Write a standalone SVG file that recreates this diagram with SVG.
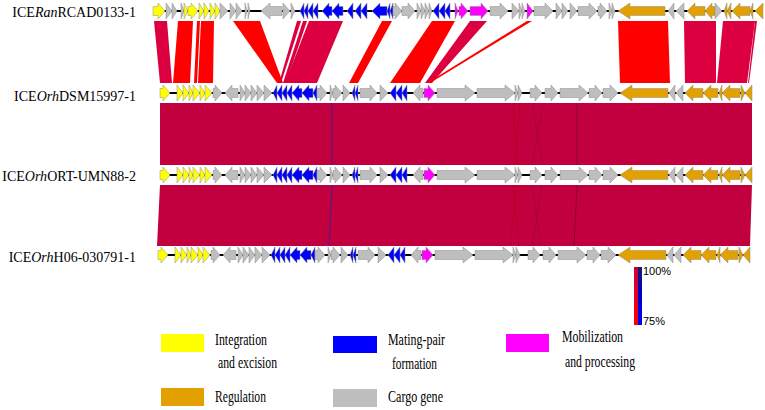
<svg xmlns="http://www.w3.org/2000/svg" xmlns:xlink="http://www.w3.org/1999/xlink" width="765" height="410" viewBox="0 0 765 410">
<style>
.y{fill:#FFFF00}.b{fill:#0000FF}.m{fill:#FF00FF}.o{fill:#E2A100}.g{fill:#BEBEBE}
.gene polygon{stroke:#8c8c8c;stroke-width:0.5}
.bb{stroke:#000;stroke-width:2}
.lab{font-family:"Liberation Serif","Times New Roman",serif;font-size:14px;fill:#000}
.leg{font-family:"Liberation Serif","Times New Roman",serif;font-size:16px;fill:#000}
.pct{font-family:"Liberation Sans",Arial,sans-serif;font-size:11px;fill:#000}
.r{fill:#FF0000}.c{fill:#DC0040}
</style>
<defs>
<linearGradient id="gl" x1="0" y1="0" x2="0" y2="1"><stop offset="0" stop-color="#C0003F"/><stop offset="0.4" stop-color="#E0002A"/><stop offset="1" stop-color="#FF0000"/></linearGradient>
<linearGradient id="gr" x1="0" y1="0" x2="0" y2="1"><stop offset="0" stop-color="#1C1C6E"/><stop offset="0.45" stop-color="#0000C0"/><stop offset="1" stop-color="#0000FF"/></linearGradient>
<g id="t2genes" class="gene">
<line class="bb" x1="160" y1="0" x2="752" y2="0"/>
<polygon class="y" points="160,-4.5 163,-4.5 163,-8 170,0 163,8 163,4.5 160,4.5"/>
<polygon class="y" points="177,-8 183,0 177,8"/>
<polygon class="y" points="183,-8 189,0 183,8"/>
<polygon class="y" points="189,-8 193,0 189,8"/>
<polygon class="y" points="193,-8 200,0 193,8"/>
<polygon class="y" points="200,-8 205,0 200,8"/>
<polygon class="y" points="205,-8 212,0 205,8"/>
<polygon class="g" points="213,-4.5 215,-4.5 215,-8 222,0 215,8 215,4.5 213,4.5"/>
<polygon class="g" points="238,-4.5 232,-4.5 232,-8 225,0 232,8 232,4.5 238,4.5"/>
<polygon class="g" points="240,-8 245,0 240,8"/>
<polygon class="g" points="245,-8 251,0 245,8"/>
<polygon class="g" points="251,-8 257,0 251,8"/>
<polygon class="g" points="257,-8 264,0 257,8"/>
<polygon class="g" points="264,-8 272,0 264,8"/>
<polygon class="b" points="277,-8 273,0 277,8"/>
<polygon class="b" points="282,-8 277,0 282,8"/>
<polygon class="b" points="287,-8 282,0 287,8"/>
<polygon class="b" points="292,-8 287,0 292,8"/>
<polygon class="b" points="302,-4.5 299,-4.5 299,-8 292,0 299,8 299,4.5 302,4.5"/>
<polygon class="b" points="313,-4.5 309,-4.5 309,-8 302,0 309,8 309,4.5 313,4.5"/>
<polygon class="b" points="317,-8 313,0 317,8"/>
<polygon class="g" points="317,-4.5 320,-4.5 320,-8 327,0 320,8 320,4.5 317,4.5"/>
<polygon class="g" points="330,-8 333,0 330,8"/>
<polygon class="g" points="333,-4.5 335,-4.5 335,-8 342,0 335,8 335,4.5 333,4.5"/>
<polygon class="g" points="343,-8 350,0 343,8"/>
<polygon class="b" points="355,-8 352,0 355,8"/>
<polygon class="b" points="358,-8 355,0 358,8"/>
<polygon class="g" points="360,-4.5 370,-4.5 370,-8 377,0 370,8 370,4.5 360,4.5"/>
<polygon class="g" points="380,-8 388,0 380,8"/>
<polygon class="b" points="396,-8 390,0 396,8"/>
<polygon class="b" points="402,-8 396,0 402,8"/>
<polygon class="b" points="407,-8 402,0 407,8"/>
<polygon class="g" points="423,-4.5 420,-4.5 420,-8 413,0 420,8 420,4.5 423,4.5"/>
<polygon class="m" points="424,-4.5 428,-4.5 428,-8 435,0 428,8 428,4.5 424,4.5"/>
<polygon class="g" points="437,-4.5 465,-4.5 465,-8 475,0 465,8 465,4.5 437,4.5"/>
<polygon class="g" points="477,-4.5 505,-4.5 505,-8 515,0 505,8 505,4.5 477,4.5"/>
<polygon class="g" points="515,-8 518,0 515,8"/>
<polygon class="g" points="518,-8 522,0 518,8"/>
<polygon class="g" points="530,-4.5 535,-4.5 535,-8 542,0 535,8 535,4.5 530,4.5"/>
<polygon class="g" points="545,-4.5 551,-4.5 551,-8 558,0 551,8 551,4.5 545,4.5"/>
<polygon class="g" points="560,-4.5 579,-4.5 579,-8 588,0 579,8 579,4.5 560,4.5"/>
<polygon class="g" points="589,-4.5 595,-4.5 595,-8 602,0 595,8 595,4.5 589,4.5"/>
<polygon class="g" points="603,-4.5 610,-4.5 610,-8 618,0 610,8 610,4.5 603,4.5"/>
<polygon class="o" points="668,-4.5 632,-4.5 632,-8 620,0 632,8 632,4.5 668,4.5"/>
<polygon class="g" points="675,-8 669,0 675,8"/>
<polygon class="g" points="683,-8 676,0 683,8"/>
<polygon class="o" points="703,-4.5 693,-4.5 693,-8 685,0 693,8 693,4.5 703,4.5"/>
<polygon class="o" points="718,-4.5 711,-4.5 711,-8 703,0 711,8 711,4.5 718,4.5"/>
<polygon class="o" points="722,-8 719,0 722,8"/>
<polygon class="o" points="740,-4.5 730,-4.5 730,-8 722,0 730,8 730,4.5 740,4.5"/>
<polygon class="o" points="741,-8 745,0 741,8"/>
<polygon class="o" points="752,-8 745,0 752,8"/>
</g>
</defs>

<g id="connectors">
<g id="links-1-2">
<polygon class="c" points="154,21 167,21 172,83 160,83"/>
<polygon class="r" points="178,21 193,21 190,83 173,83"/>
<polygon class="r" points="197,21 200,21 197,83 194,83"/>
<polygon class="r" points="201,21 214,21 213,83 198,83"/>
<polygon class="r" points="233,21 260,21 283,83 277,83"/>
<polygon class="c" points="297,21 301,21 281,83 279,83"/>
<polygon class="c" points="303,21 307,21 286,83 283,83"/>
<polygon class="c" points="309,21 343,21 317,83 285,83"/>
<polygon class="r" points="382,21 392,21 358,83 349,83"/>
<polygon class="r" points="432,21 455,21 420,83 390,83"/>
<polygon class="c" points="470,21 487,21 432,83 425,83"/>
<polygon class="r" points="527,21 532,21 430,83 427,83"/>
<polygon class="r" points="618,21 668,21 670,83 620,83"/>
<polygon class="c" points="684,21 716,21 716,83 685,83"/>
<polygon class="c" points="723,21 755,21 747,83 717,83"/>
<polygon class="c" points="755,21 757,21 749,83 748,83"/>
</g>
<g id="links-2-3">
<polygon fill="#C20040" points="160,103 752,103 752,165 160,165"/>
<line x1="332" y1="103" x2="332" y2="165" stroke="#4B1E8C" stroke-width="1"/>
<line x1="513" y1="103" x2="518" y2="165" stroke="#B0001A" stroke-width="0.7"/>
<line x1="520" y1="103" x2="515" y2="165" stroke="#B0001A" stroke-width="0.7"/>
<line x1="532" y1="103" x2="543" y2="165" stroke="#A00030" stroke-width="0.7"/>
<line x1="543" y1="103" x2="532" y2="165" stroke="#A00030" stroke-width="0.7"/>
<line x1="577" y1="103" x2="577" y2="165" stroke="#8B0030" stroke-width="1"/>
</g>
<g id="links-3-4">
<polygon fill="#C20040" points="160,185 752,185 750,246 157,246"/>
<line x1="332" y1="185" x2="329" y2="246" stroke="#4B1E8C" stroke-width="1"/>
<line x1="517" y1="185" x2="510" y2="246" stroke="#B0001A" stroke-width="0.7"/>
<line x1="513" y1="185" x2="519" y2="246" stroke="#B0001A" stroke-width="0.7"/>
<line x1="532" y1="185" x2="541" y2="246" stroke="#A00030" stroke-width="0.7"/>
<line x1="542" y1="185" x2="532" y2="246" stroke="#A00030" stroke-width="0.7"/>
<line x1="577" y1="185" x2="574" y2="246" stroke="#8B0030" stroke-width="1"/>
</g>
</g>

<g id="ICE1">
<text class="lab" x="136" y="17" text-anchor="end">ICE<tspan font-style="italic">Ran</tspan>RCAD0133-1</text>
<g class="gene" transform="translate(0,11)">
<line class="bb" x1="153" y1="0" x2="763" y2="0"/>
<polygon class="y" points="153,-4.5 158,-4.5 158,-8 165,0 158,8 158,4.5 153,4.5"/>
<polygon class="g" points="166,-8 172,0 166,8"/>
<polygon class="g" points="172,-8 177,0 172,8"/>
<polygon class="g" points="181,-8 184,0 181,8"/>
<polygon class="y" points="184,-8 188,0 184,8"/>
<polygon class="y" points="188,-4.5 191,-4.5 191,-8 198,0 191,8 191,4.5 188,4.5"/>
<polygon class="y" points="199,-8 204,0 199,8"/>
<polygon class="y" points="204,-8 209,0 204,8"/>
<polygon class="y" points="210,-8 215,0 210,8"/>
<polygon class="y" points="215,-8 220,0 215,8"/>
<polygon class="g" points="220,-8 228,0 220,8"/>
<polygon class="g" points="230,-8 236,0 230,8"/>
<polygon class="g" points="236,-8 242,0 236,8"/>
<polygon class="g" points="245,-8 247,0 245,8"/>
<polygon class="g" points="248,-8 250,0 248,8"/>
<polygon class="g" points="282,-4.5 270,-4.5 270,-8 261,0 270,8 270,4.5 282,4.5"/>
<polygon class="g" points="283,-8 290,0 283,8"/>
<polygon class="g" points="291,-8 295,0 291,8"/>
<polygon class="b" points="304,-8 300,0 304,8"/>
<polygon class="b" points="308,-8 304,0 308,8"/>
<polygon class="b" points="313,-8 308,0 313,8"/>
<polygon class="b" points="318,-8 313,0 318,8"/>
<polygon class="b" points="332,-4.5 329,-4.5 329,-8 322,0 329,8 329,4.5 332,4.5"/>
<polygon class="b" points="343,-4.5 339,-4.5 339,-8 332,0 339,8 339,4.5 343,4.5"/>
<polygon class="b" points="353,-8 347,0 353,8"/>
<polygon class="b" points="361,-8 355,0 361,8"/>
<polygon class="b" points="367,-8 361,0 367,8"/>
<polygon class="b" points="387,-4.5 380,-4.5 380,-8 372,0 380,8 380,4.5 387,4.5"/>
<polygon class="b" points="390,-8 387,0 390,8"/>
<polygon class="b" points="393,-8 390,0 393,8"/>
<polygon class="g" points="393,-4.5 395,-4.5 395,-8 402,0 395,8 395,4.5 393,4.5"/>
<polygon class="g" points="402,-4.5 408,-4.5 408,-8 415,0 408,8 408,4.5 402,4.5"/>
<polygon class="g" points="417,-8 421,0 417,8"/>
<polygon class="g" points="421,-8 425,0 421,8"/>
<polygon class="g" points="425,-8 429,0 425,8"/>
<polygon class="g" points="429,-8 432,0 429,8"/>
<polygon class="b" points="439,-8 433,0 439,8"/>
<polygon class="b" points="445,-8 439,0 445,8"/>
<polygon class="b" points="450,-8 445,0 450,8"/>
<polygon class="m" points="455,-8 458,0 455,8"/>
<polygon class="m" points="459,-4.5 461,-4.5 461,-8 468,0 461,8 461,4.5 459,4.5"/>
<polygon class="m" points="470,-4.5 481,-4.5 481,-8 488,0 481,8 481,4.5 470,4.5"/>
<polygon class="g" points="490,-4.5 500,-4.5 500,-8 508,0 500,8 500,4.5 490,4.5"/>
<polygon class="g" points="512,-8 519,0 512,8"/>
<polygon class="g" points="519,-8 522,0 519,8"/>
<polygon class="g" points="522,-8 525,0 522,8"/>
<polygon class="m" points="527,-8 533,0 527,8"/>
<polygon class="g" points="534,-4.5 545,-4.5 545,-8 553,0 545,8 545,4.5 534,4.5"/>
<polygon class="g" points="556,-8 562,0 556,8"/>
<polygon class="g" points="562,-8 568,0 562,8"/>
<polygon class="g" points="570,-8 577,0 570,8"/>
<polygon class="g" points="578,-4.5 589,-4.5 589,-8 597,0 589,8 589,4.5 578,4.5"/>
<polygon class="g" points="598,-4.5 600,-4.5 600,-8 607,0 600,8 600,4.5 598,4.5"/>
<polygon class="g" points="609,-8 612,0 609,8"/>
<polygon class="g" points="612,-8 615,0 612,8"/>
<polygon class="o" points="665,-4.5 630,-4.5 630,-8 618,0 630,8 630,4.5 665,4.5"/>
<polygon class="g" points="674,-8 668,0 674,8"/>
<polygon class="g" points="684,-8 676,0 684,8"/>
<polygon class="o" points="705,-4.5 695,-4.5 695,-8 687,0 695,8 695,4.5 705,4.5"/>
<polygon class="o" points="715,-4.5 712,-4.5 712,-8 705,0 712,8 712,4.5 715,4.5"/>
<polygon class="g" points="715,-8 722,0 715,8"/>
<polygon class="o" points="727,-8 724,0 727,8"/>
<polygon class="o" points="731,-8 727,0 731,8"/>
<polygon class="o" points="750,-4.5 740,-4.5 740,-8 732,0 740,8 740,4.5 750,4.5"/>
<polygon class="o" points="753,-8 750,0 753,8"/>
<polygon class="o" points="763,-8 755,0 763,8"/>
</g>
</g>

<g id="ICE2">
<text class="lab" x="136" y="101" text-anchor="end">ICE<tspan font-style="italic">Orh</tspan>DSM15997-1</text>
<use xlink:href="#t2genes" transform="translate(0,93)"/>
</g>
<g id="ICE3">
<text class="lab" x="136" y="181" text-anchor="end">ICE<tspan font-style="italic">Orh</tspan>ORT-UMN88-2</text>
<use xlink:href="#t2genes" transform="translate(0,175)"/>
</g>
<g id="ICE4">
<text class="lab" x="136" y="262" text-anchor="end">ICE<tspan font-style="italic">Orh</tspan>H06-030791-1</text>
<use xlink:href="#t2genes" transform="translate(-2,255)"/>
</g>

<g id="scale">
<rect x="634" y="267" width="4" height="58" fill="url(#gl)"/>
<rect x="638" y="267" width="4" height="58" fill="url(#gr)"/>
<text class="pct" x="643" y="275">100%</text>
<text class="pct" x="643" y="325">75%</text>
</g>

<g id="legend">
<rect x="161" y="334" width="43" height="18" fill="#FFFF00"/>
<text class="leg" x="215" y="345" textLength="52" lengthAdjust="spacingAndGlyphs">Integration</text>
<text class="leg" x="218" y="368" textLength="59" lengthAdjust="spacingAndGlyphs">and excision</text>
<rect x="333" y="336" width="44" height="17" fill="#0000FF"/>
<text class="leg" x="388" y="345" textLength="57" lengthAdjust="spacingAndGlyphs">Mating-pair</text>
<text class="leg" x="392" y="369" textLength="45" lengthAdjust="spacingAndGlyphs">formation</text>
<rect x="506" y="334" width="43" height="18" fill="#FF00FF"/>
<text class="leg" x="562" y="342" textLength="61" lengthAdjust="spacingAndGlyphs">Mobilization</text>
<text class="leg" x="565" y="367" textLength="70" lengthAdjust="spacingAndGlyphs">and processing</text>
<rect x="161" y="388" width="43" height="18" fill="#E2A100"/>
<text class="leg" x="215" y="402" textLength="51" lengthAdjust="spacingAndGlyphs">Regulation</text>
<rect x="333" y="389" width="44" height="18" fill="#BEBEBE"/>
<text class="leg" x="388" y="402" textLength="55" lengthAdjust="spacingAndGlyphs">Cargo gene</text>
</g>
</svg>
